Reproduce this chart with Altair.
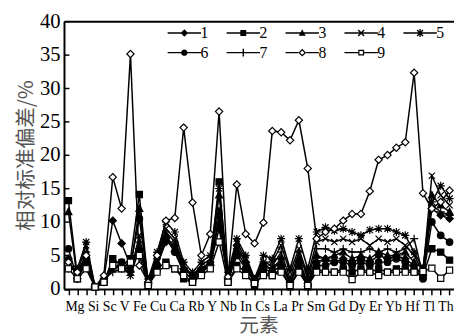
import altair as alt
import pandas as pd

# 44 elements on the x axis (only every other one is printed under the axis)
elements = ["Na", "Mg", "Al", "Si", "K", "Sc", "Ti", "V", "Cr", "Fe", "Co", "Cu",
            "Zn", "Ca", "Ge", "Rb", "Sr", "Y", "Zr", "Nb", "Mo", "In", "Sn", "Cs",
            "Ba", "La", "Ce", "Pr", "Nd", "Sm", "Eu", "Gd", "Tb", "Dy", "Ho", "Er",
            "Tm", "Yb", "Lu", "Hf", "Ta", "Tl", "Pb", "Th"]
labeled = elements[1::2]

series_names = ["1", "2", "3", "4", "5", "6", "7", "8", "9"]

s1 = [4.5, 1.5, 4.5, 0.3, 1.5, 10.2, 6.8, 3.5, 6.0, 0.8, 3.5, 7.0, 6.5, 3.0, 2.0, 3.0,
      3.5, 9.0, 1.5, 6.5, 4.0, 1.2, 3.5, 3.0, 4.5, 1.0, 4.0, 0.8, 4.0, 4.5, 4.0, 4.5,
      4.0, 4.5, 4.0, 5.0, 4.5, 5.0, 4.5, 3.5, 2.0, 12.0, 11.0, 10.5]
s2 = [13.2, 2.0, 3.5, 0.3, 1.0, 4.5, 3.5, 4.5, 14.1, 0.5, 3.0, 4.0, 3.0, 1.5, 1.0, 2.5,
      3.5, 16.0, 1.0, 3.5, 2.5, 0.5, 2.5, 2.0, 3.0, 0.3, 3.0, 0.3, 3.0, 2.5, 2.5, 3.0,
      2.5, 3.0, 2.5, 3.0, 2.5, 3.0, 3.0, 2.5, 1.9, 6.0, 5.5, 4.3]
s3 = [11.5, 1.5, 5.0, 0.3, 1.5, 3.5, 3.0, 3.0, 12.0, 1.0, 4.0, 8.0, 6.0, 2.5, 1.5, 3.0,
      4.0, 14.0, 1.5, 5.5, 3.5, 1.0, 3.5, 3.0, 4.0, 1.0, 4.5, 0.8, 5.0, 4.5, 5.0, 5.5,
      4.5, 5.0, 4.5, 5.5, 5.0, 5.0, 5.5, 4.0, 3.0, 14.0, 12.5, 11.5]
s4 = [3.5, 2.5, 6.5, 0.3, 1.0, 3.0, 4.0, 2.5, 8.0, 1.0, 5.0, 9.0, 7.5, 3.5, 2.0, 3.5,
      4.5, 12.0, 2.0, 7.0, 4.5, 1.5, 4.0, 4.0, 6.5, 2.5, 6.0, 2.0, 7.0, 7.5, 7.0, 7.5,
      7.0, 7.5, 6.5, 7.5, 7.0, 7.5, 6.5, 5.0, 2.5, 16.9, 14.0, 12.5]
s5 = [3.0, 3.0, 7.0, 0.3, 1.0, 3.0, 3.5, 2.0, 6.0, 1.5, 5.5, 10.0, 8.5, 4.0, 2.5, 4.0,
      5.0, 15.0, 2.5, 7.5, 5.0, 1.5, 5.0, 4.5, 7.5, 3.0, 7.5, 3.0, 8.5, 9.2, 8.7, 9.0,
      8.5, 8.0, 8.8, 9.0, 9.0, 8.5, 8.0, 5.5, 3.0, 13.0, 15.4, 13.5]
s6 = [6.0, 1.5, 4.0, 0.3, 1.0, 4.0, 4.0, 3.5, 10.5, 0.8, 3.5, 7.5, 5.5, 2.5, 1.5, 2.5,
      3.5, 11.0, 1.2, 5.0, 3.0, 1.0, 3.0, 2.5, 3.5, 0.8, 3.5, 0.5, 3.5, 3.5, 4.0, 4.0,
      3.5, 4.0, 3.5, 4.0, 4.0, 4.5, 4.0, 3.0, 1.5, 10.0, 8.0, 7.0]
s7 = [4.0, 2.0, 5.5, 0.3, 1.5, 2.5, 3.0, 2.5, 7.0, 1.0, 4.5, 8.5, 7.0, 3.0, 2.0, 3.0,
      4.0, 10.0, 1.5, 6.0, 4.0, 1.0, 4.0, 3.5, 5.5, 1.5, 5.5, 1.5, 6.0, 6.0, 5.5, 6.0,
      5.5, 5.5, 6.0, 5.5, 6.0, 5.5, 6.0, 7.5, 2.0, 12.5, 11.5, 11.0]
s8 = [4.0, 2.5, 5.0, 0.3, 2.0, 16.7, 12.0, 35.1, 3.5, 1.0, 5.0, 10.2, 10.6, 24.1, 12.9, 5.0,
      8.2, 26.5, 1.8, 15.6, 8.2, 6.8, 9.9, 23.6, 23.4, 22.2, 25.2, 18.0, 7.5, 8.5, 9.0, 10.2,
      11.2, 11.2, 14.6, 19.3, 20.0, 21.1, 21.9, 32.3, 14.3, 12.0, 13.0, 14.7]
s9 = [3.0, 1.5, 3.0, 0.3, 1.0, 3.5, 3.0, 4.0, 5.0, 0.5, 2.5, 3.5, 3.0, 2.0, 1.0, 2.0,
      3.0, 7.0, 1.0, 3.0, 2.0, 0.8, 2.0, 2.0, 2.5, 0.5, 2.5, 0.5, 2.5, 2.5, 2.5, 2.5,
      1.4, 2.5, 2.5, 2.0, 2.5, 2.5, 2.5, 2.5, 2.6, 3.1, 1.6, 2.8]

all_series = [s1, s2, s3, s4, s5, s6, s7, s8, s9]
y_ticks = [0, 5, 10, 15, 20, 25, 30, 35, 40]

rows = []
for name, vals in zip(series_names, all_series):
    for el, v in zip(elements, vals):
        rows.append({"s": name, "el": el, "v": v})
df = pd.DataFrame(rows)

# marker shapes for the data points
point_paths = [
    "M0,-1L1,0L0,1L-1,0Z",
    "M-0.85,-0.85H0.85V0.85H-0.85Z",
    "M0,-1L0.95,0.75H-0.95Z",
    "M-0.85,-0.85L0.85,0.85M-0.85,0.85L0.85,-0.85",
    "M-0.85,-0.85L0.85,0.85M-0.85,0.85L0.85,-0.85M0,-1.1V1.1M-1.1,0H1.1",
    "M0.9,0A0.9,0.9 0 1,1 -0.9,0A0.9,0.9 0 1,1 0.9,0Z",
    "M-1.1,0H1.1M0,-1.1V1.1",
    "M0,-1L1,0L0,1L-1,0Z",
    "M-0.85,-0.85H0.85V0.85H-0.85Z",
]
# legend symbols (fill only): line segment with the marker in the middle
LN = "M-3.4,-0.14H3.4V0.14H-3.4Z"
XA = "M-0.501,-0.699L0.699,0.501L0.501,0.699L-0.699,-0.501Z"
XB = "M-0.699,0.501L0.501,-0.699L0.699,-0.501L-0.501,0.699Z"
VB = "M-0.14,-0.8H0.14V0.8H-0.14Z"
legend_paths = [
    LN + "M0,-0.75L0.75,0L0,0.75L-0.75,0Z",
    LN + "M-0.6,-0.6H0.6V0.6H-0.6Z",
    LN + "M0,-0.75L0.7,0.55H-0.7Z",
    LN + XA + XB,
    LN + XA + XB + VB,
    LN + "M0.65,0A0.65,0.65 0 1,1 -0.65,0A0.65,0.65 0 1,1 0.65,0Z",
    LN + VB,
    "M-3.4,-0.14H-0.8V0.14H-3.4ZM0.8,-0.14H3.4V0.14H0.8Z"
    "M0,-0.8L0.8,0L0,0.8L-0.8,0ZM0,-0.45L-0.45,0L0,0.45L0.45,0Z",
    "M-3.4,-0.14H-0.6V0.14H-3.4ZM0.6,-0.14H3.4V0.14H0.6Z"
    "M-0.6,-0.6H0.6V0.6H-0.6ZM-0.35,-0.35V0.35H0.35V-0.35Z",
]

W = 397
H = 272.5
serif = "Liberation Serif"
cjk = "Noto Sans CJK SC"

base = alt.Chart(df)

lines = base.mark_line(color="black", strokeWidth=1.5).encode(
    x=alt.X("el:N", sort=elements, scale=alt.Scale(padding=0.5),
            axis=alt.Axis(orient="bottom", labels=False, ticks=True, tickSize=6,
                          tickWidth=1.5, tickColor="black", domainColor="black",
                          domainWidth=2, title=" ".join(labeled), titleFont=serif,
                          titleFontSize=14, titleFontWeight="normal",
                          titleColor="black", titlePadding=4)),
    y=alt.Y("v:Q", scale=alt.Scale(domain=[0, 40], nice=False),
            axis=alt.Axis(orient="left", values=y_ticks, tickSize=0, labelFont=serif,
                          labelFontSize=21, labelColor="black", labelPadding=4,
                          domainColor="black", domainWidth=2, grid=False,
                          title="相对标准偏差/%", titleFont=cjk, titleFontSize=21,
                          titleFontWeight="normal", titleColor="#555",
                          titlePadding=3)),
    detail="s:N",
)

pts = base.mark_point(filled=True, size=55, stroke="black", strokeWidth=1.2,
                      opacity=1).encode(
    x=alt.X("el:N", sort=elements,
            axis=alt.Axis(orient="top", labels=False, ticks=False, domainColor="black",
                          domainWidth=2, title=None)),
    y=alt.Y("v:Q", axis=alt.Axis(orient="right", offset=-W, labels=False, ticks=True,
                                 tickSize=5, tickWidth=1.5, tickColor="black",
                                 domain=False, grid=False, values=y_ticks, title=None)),
    shape=alt.Shape("s:N", scale=alt.Scale(domain=series_names, range=point_paths),
                    legend=None),
    fill=alt.condition("datum.s == '8' || datum.s == '9'", alt.value("white"),
                       alt.value("black")),
)

leg = base.transform_filter("datum.v < -1").mark_point(
    filled=True, fill="black", size=100, opacity=1
).encode(
    x=alt.X("el:N", sort=elements, axis=None),
    y=alt.Y("v:Q", axis=None),
    shape=alt.Shape("s:N", scale=alt.Scale(domain=series_names, range=legend_paths),
                    legend=alt.Legend(title=None, orient="none", legendX=114.5,
                                      legendY=4, columns=5, direction="horizontal",
                                      symbolSize=100, symbolStrokeWidth=0,
                                      symbolFillColor="black", symbolOpacity=1,
                                      labelFont=serif, labelFontSize=16,
                                      labelColor="black", labelOffset=8.5,
                                      columnPadding=18, rowPadding=4)),
)

chart = alt.layer(lines, pts, leg).resolve_scale(
    shape="independent"
).resolve_axis(
    x="independent", y="independent"
).properties(
    width=W, height=H,
    autosize=alt.AutoSizeParams(type="none"),
    padding={"left": 57, "top": 10.5, "right": 0, "bottom": 45},
    title=alt.TitleParams("元素", orient="bottom", font=cjk, fontSize=20,
                          fontWeight="normal", color="#555", offset=3, frame="group"),
).configure_view(stroke=None)

chart.save("out.html", embed_options={"renderer": "svg", "actions": False})
